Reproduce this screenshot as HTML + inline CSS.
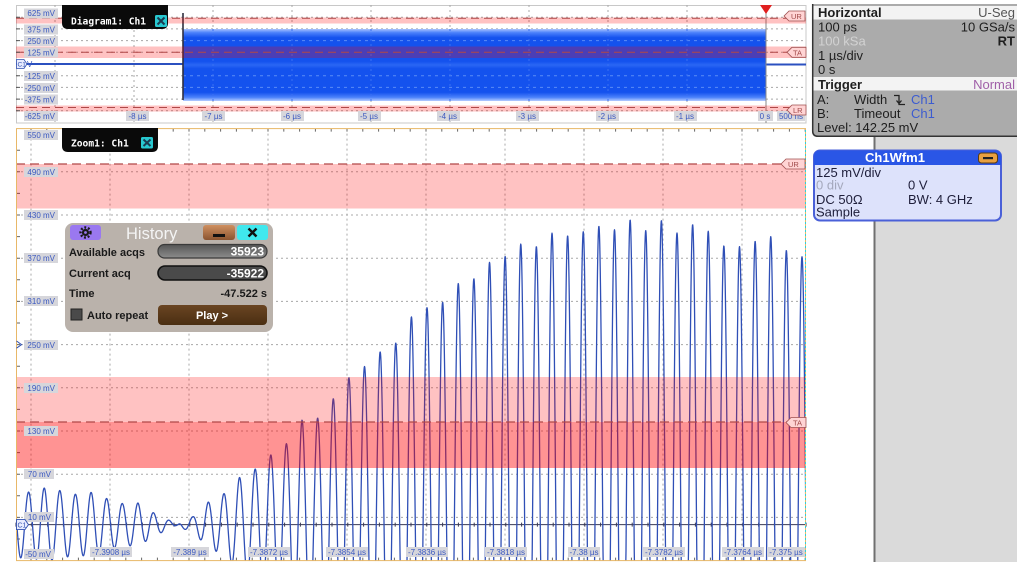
<!DOCTYPE html>
<html><head><meta charset="utf-8"><title>scope</title>
<style>
html,body{margin:0;padding:0;background:#fff;width:1024px;height:576px;overflow:hidden;position:relative}
svg{display:block;position:absolute;left:0;top:0}
text{font-family:"Liberation Sans",sans-serif}
.lb{font-size:8px;fill:#3a58c0}
.lbg{fill:#d6d6db}
.mono{font-family:"DejaVu Sans Mono","Liberation Mono",monospace;font-weight:bold;font-size:9.6px;fill:#fff}
.rp{font-size:13px;fill:#1e1e1e}
.wb{font-size:13px;fill:#1e1e3a}
.dl{font-size:11px;font-weight:bold;fill:#1a1a1a}
</style></head><body>
<svg id="s" width="1024" height="576" viewBox="0 0 1024 576" xmlns="http://www.w3.org/2000/svg" overflow="hidden">
<defs>
<linearGradient id="bf" x1="0" y1="0" x2="0" y2="1">
 <stop offset="0" stop-color="#a8c2ff"/>
 <stop offset="0.05" stop-color="#4c82fb"/>
 <stop offset="0.12" stop-color="#1452ee"/>
 <stop offset="0.45" stop-color="#1452ee"/>
 <stop offset="0.5" stop-color="#2a66f4"/>
 <stop offset="0.55" stop-color="#1452ee"/>
 <stop offset="0.88" stop-color="#1452ee"/>
 <stop offset="0.95" stop-color="#4c82fb"/>
 <stop offset="1" stop-color="#b4ccff"/>
</linearGradient>
<linearGradient id="mn" x1="0" y1="0" x2="0" y2="1">
 <stop offset="0" stop-color="#d09060"/><stop offset="1" stop-color="#8a5430"/>
</linearGradient>
<linearGradient id="f1" x1="0" y1="0" x2="0" y2="1">
 <stop offset="0" stop-color="#555"/><stop offset="1" stop-color="#8c8c8c"/>
</linearGradient>
<linearGradient id="pl" x1="0" y1="0" x2="0" y2="1">
 <stop offset="0" stop-color="#6a4522"/><stop offset="1" stop-color="#4a2e12"/>
</linearGradient>
<clipPath id="zc"><rect x="16" y="128.6" width="790" height="432"/></clipPath>
</defs>

<!-- ============ RIGHT PANEL ============ -->
<rect x="874" y="137" width="143" height="425" fill="#dadada"/>
<line x1="874.5" y1="137" x2="874.5" y2="562" stroke="#707070" stroke-width="2"/>

<path d="M812,4 H1017 V137 H818 Q812,137 812,131 Z" fill="#ababab"/>
<path d="M812.7,4 V131 Q812.7,136.3 818,136.3 H1017" fill="none" stroke="#333" stroke-width="1.5"/>
<rect x="813.5" y="6" width="203.5" height="13.5" fill="#f3f3f3"/>
<rect x="813.5" y="77" width="203.5" height="13.5" fill="#f3f3f3"/>
<text class="rp" x="818" y="17" font-weight="bold">Horizontal</text>
<text class="rp" x="1015" y="17" text-anchor="end" style="fill:#555">U-Seg</text>
<text class="rp" x="818" y="31.5">100 ps</text>
<text class="rp" x="1015" y="31.5" text-anchor="end">10 GSa/s</text>
<text class="rp" x="818" y="45.5" style="fill:#d2d2d2">100 kSa</text>
<text class="rp" x="1015" y="45.5" text-anchor="end" font-weight="bold">RT</text>
<text class="rp" x="818" y="60">1 µs/div</text>
<text class="rp" x="818" y="74">0 s</text>
<text class="rp" x="818" y="89" font-weight="bold">Trigger</text>
<text class="rp" x="1015" y="89" text-anchor="end" style="fill:#a060a8">Normal</text>
<text class="rp" x="817" y="104">A:</text>
<text class="rp" x="854" y="104">Width</text>
<path d="M894,95.5 H899 V104.5 H905 M896.5,100.5 L899,103.5 L901.5,100.5" fill="none" stroke="#222" stroke-width="1.3"/>
<text class="rp" x="911" y="104" style="fill:#3c5cd0">Ch1</text>
<text class="rp" x="817" y="118">B:</text>
<text class="rp" x="854" y="118">Timeout</text>
<text class="rp" x="911" y="118" style="fill:#3c5cd0">Ch1</text>
<text class="rp" x="817" y="132">Level: 142.25 mV</text>

<!-- Ch1Wfm1 box -->
<rect x="814" y="150.5" width="187" height="70" rx="6" fill="#dde2fb" stroke="#4a60d8" stroke-width="2"/>
<path d="M814,165 V156.5 Q814,150.5 820,150.5 H995 Q1001,150.5 1001,156.5 V165 Z" fill="#2a56e6"/>
<text x="895" y="162" text-anchor="middle" font-size="13" font-weight="bold" fill="#fff">Ch1Wfm1</text>
<rect x="978.5" y="153" width="19" height="10" rx="3" fill="#e8a040" stroke="#5a3a10" stroke-width="1"/>
<rect x="983" y="157" width="10" height="2.2" fill="#222"/>
<text class="wb" x="816" y="177">125 mV/div</text>
<text class="wb" x="816" y="189.5" style="fill:#a4a8bc">0 div</text>
<text class="wb" x="908" y="189.5">0 V</text>
<text class="wb" x="816" y="204">DC 50Ω</text>
<text class="wb" x="908" y="204">BW: 4 GHz</text>
<text class="wb" x="816" y="216.5">Sample</text>

<!-- ============ TOP DIAGRAM ============ -->
<rect x="16.5" y="5.5" width="789.5" height="117.5" fill="#fff" stroke="#c8c8c8" stroke-width="1"/>
<path d="M16,17.2H806 M16,28.9H806 M16,40.6H806 M16,52.3H806 M16,75.7H806 M16,87.4H806 M16,99.1H806 M16,110.8H806" stroke="#a8a8a8" stroke-width="1" stroke-dasharray="2,3" fill="none"/>
<path d="M55,5V123 M134,5V123 M213,5V123 M292,5V123 M371,5V123 M450,5V123 M529,5V123 M608,5V123 M687,5V123" stroke="#a8a8a8" stroke-width="1" stroke-dasharray="2,3" fill="none"/>
<!-- blue acquisition fill -->
<rect x="183" y="29" width="583" height="72" fill="url(#bf)"/>
<path d="M183,40.6H766 M183,75.7H766 M183,87.4H766" stroke="#5a8cf6" stroke-width="1" stroke-dasharray="3,4" fill="none"/>
<path d="M213,29V101 M292,29V101 M371,29V101 M450,29V101 M529,29V101 M608,29V101 M687,29V101" stroke="#3a70f2" stroke-width="1" stroke-dasharray="2,3" fill="none"/>
<line x1="16" y1="64" x2="183" y2="64" stroke="#2b50c0" stroke-width="2"/>
<line x1="766" y1="64.5" x2="806" y2="64.5" stroke="#2b50c0" stroke-width="2"/>
<line x1="183" y1="13" x2="183" y2="100" stroke="#303040" stroke-width="1.6"/>
<line x1="766" y1="12" x2="766" y2="123" stroke="#888" stroke-width="1"/>
<!-- limit bands -->
<rect x="16" y="17.5" width="790" height="6" fill="rgba(255,0,0,0.24)"/>
<rect x="16" y="46.5" width="790" height="11.5" fill="rgba(255,0,0,0.24)"/>
<rect x="16" y="105.5" width="790" height="6" fill="rgba(255,0,0,0.24)"/>
<path d="M16,18.3H806 M16,52.3H806 M16,107.5H806" stroke="#b04848" stroke-width="1" stroke-dasharray="8,5" fill="none"/>
<!-- trigger marker -->
<path d="M760,5 H772 L766,14 Z" fill="#e02020"/>
<!-- left ticks -->
<path d="M16,17.2h4 M16,28.9h4 M16,40.6h4 M16,52.3h4 M16,75.7h4 M16,87.4h4 M16,99.1h4 M16,110.8h4" stroke="#555" stroke-width="1"/>
<!-- y labels -->
<g>
<rect class="lbg" x="24" y="8.5" width="34" height="10"/><text class="lb" x="55" y="16" text-anchor="end">625 mV</text>
<rect class="lbg" x="24" y="24.5" width="34" height="10"/><text class="lb" x="55" y="32.5" text-anchor="end">375 mV</text>
<rect class="lbg" x="24" y="36" width="34" height="10"/><text class="lb" x="55" y="44" text-anchor="end">250 mV</text>
<rect class="lbg" x="24" y="47.5" width="34" height="10"/><text class="lb" x="55" y="55.5" text-anchor="end">125 mV</text>
<text class="lb" x="27" y="67">V</text>
<rect class="lbg" x="24" y="71" width="34" height="10"/><text class="lb" x="55" y="79" text-anchor="end">-125 mV</text>
<rect class="lbg" x="24" y="83" width="34" height="10"/><text class="lb" x="55" y="91" text-anchor="end">-250 mV</text>
<rect class="lbg" x="24" y="94.5" width="34" height="10"/><text class="lb" x="55" y="102.5" text-anchor="end">-375 mV</text>
<rect class="lbg" x="24" y="111" width="34" height="10"/><text class="lb" x="55" y="119" text-anchor="end">-625 mV</text>
</g>
<path d="M16.5,59.5 H24 L27,64 L24,68.5 H16.5 Z" fill="#e8ecff" stroke="#3050b0" stroke-width="0.8"/>
<text x="17.5" y="66.5" font-size="6.5" fill="#3050b0">C1</text>
<!-- x labels -->
<g>
<rect class="lbg" x="126" y="111" width="23" height="10"/><text class="lb" x="137.5" y="119" text-anchor="middle">-8 µs</text>
<rect class="lbg" x="202" y="111" width="23" height="10"/><text class="lb" x="213.5" y="119" text-anchor="middle">-7 µs</text>
<rect class="lbg" x="281" y="111" width="23" height="10"/><text class="lb" x="292" y="119" text-anchor="middle">-6 µs</text>
<rect class="lbg" x="358" y="111" width="23" height="10"/><text class="lb" x="369" y="119" text-anchor="middle">-5 µs</text>
<rect class="lbg" x="437" y="111" width="23" height="10"/><text class="lb" x="448" y="119" text-anchor="middle">-4 µs</text>
<rect class="lbg" x="516" y="111" width="23" height="10"/><text class="lb" x="527" y="119" text-anchor="middle">-3 µs</text>
<rect class="lbg" x="596" y="111" width="23" height="10"/><text class="lb" x="607" y="119" text-anchor="middle">-2 µs</text>
<rect class="lbg" x="674" y="111" width="23" height="10"/><text class="lb" x="685" y="119" text-anchor="middle">-1 µs</text>
<rect class="lbg" x="758" y="111" width="15" height="10"/><text class="lb" x="765" y="119" text-anchor="middle">0 s</text>
<rect class="lbg" x="777" y="111" width="28" height="10"/><text class="lb" x="791" y="119" text-anchor="middle">500 ns</text>
</g>
<!-- right markers -->
<g font-size="7.5" fill="#a04848">
<path d="M784,16 L789,11 H805 V21 H789 Z" fill="#ffd4d4" stroke="#a05050" stroke-width="0.8"/><text x="791" y="19">UR</text>
<path d="M787,52.3 L792,47.3 H806 V57.3 H792 Z" fill="#ffd4d4" stroke="#a05050" stroke-width="0.8"/><text x="793" y="55.3">TA</text>
<path d="M787,110 L792,105 H806 V115 H792 Z" fill="#ffd4d4" stroke="#a05050" stroke-width="0.8"/><text x="793" y="113">LR</text>
</g>
<!-- diagram tab -->
<path d="M62,5 H168 V23 Q168,29 162,29 H68 Q62,29 62,23 Z" fill="#0a0a0a"/>
<text class="mono" x="71" y="24.5">Diagram1: Ch1</text>
<rect x="155" y="15" width="12" height="12" rx="1.5" fill="#28c8d0"/>
<path d="M157.5,17.5 L164.5,24.5 M164.5,17.5 L157.5,24.5" stroke="#1a3a50" stroke-width="2"/>

<!-- ============ ZOOM DIAGRAM ============ -->
<rect x="16" y="128.6" width="790" height="432" fill="#fff"/>
<path d="M16,171.8H806 M16,215H806 M16,258.2H806 M16,301.4H806 M16,344.6H806 M16,387.8H806 M16,431H806 M16,474.2H806 M16,517.4H806" stroke="#a8a8a8" stroke-width="1" stroke-dasharray="2,3" fill="none"/>
<path d="M31,128.6V560.6 M110,128.6V560.6 M189,128.6V560.6 M268,128.6V560.6 M347,128.6V560.6 M426,128.6V560.6 M505,128.6V560.6 M584,128.6V560.6 M663,128.6V560.6 M742,128.6V560.6" stroke="#a8a8a8" stroke-width="1" stroke-dasharray="2,3" fill="none"/>
<line x1="16" y1="524.6" x2="806" y2="524.6" stroke="#3a3a55" stroke-width="1"/>
<path id="zt" d="M16,524.6h1" stroke="#3a3a55" stroke-width="1" fill="none"/>
<path id="lt" d="M16,150h1" stroke="#666" stroke-width="1" fill="none"/>
<g clip-path="url(#zc)">
<path id="wf" d="M16,524.6h1" fill="none" stroke="#2f4fb6" stroke-width="1.3" stroke-linejoin="round"/>
</g>
<!-- bands -->
<rect x="16" y="164" width="790" height="44.5" fill="rgba(255,0,0,0.24)"/>
<rect x="16" y="377" width="790" height="91" fill="rgba(255,0,0,0.24)"/>
<rect x="16" y="422" width="790" height="46" fill="rgba(255,0,0,0.24)"/>
<path d="M16,164H806 M16,422H806" stroke="#b04848" stroke-width="1.2" stroke-dasharray="9,5" fill="none"/>
<!-- frame -->
<rect x="16.5" y="128.6" width="789" height="432" fill="none" stroke="#e8b868" stroke-width="1"/>
<line x1="805.5" y1="130" x2="805.5" y2="560" stroke="#30d0d8" stroke-width="1" stroke-dasharray="2,2"/>
<!-- y labels -->
<g>
<rect class="lbg" x="24" y="130" width="34" height="10"/><text class="lb" x="55" y="138" text-anchor="end">550 mV</text>
<rect class="lbg" x="24" y="167" width="34" height="10"/><text class="lb" x="55" y="175" text-anchor="end">490 mV</text>
<rect class="lbg" x="24" y="210" width="34" height="10"/><text class="lb" x="55" y="218" text-anchor="end">430 mV</text>
<rect class="lbg" x="24" y="253" width="34" height="10"/><text class="lb" x="55" y="261" text-anchor="end">370 mV</text>
<rect class="lbg" x="24" y="296" width="34" height="10"/><text class="lb" x="55" y="304" text-anchor="end">310 mV</text>
<rect class="lbg" x="24" y="340" width="34" height="10"/><text class="lb" x="55" y="348" text-anchor="end">250 mV</text>
<rect class="lbg" x="24" y="383" width="34" height="10"/><text class="lb" x="55" y="391" text-anchor="end">190 mV</text>
<rect class="lbg" x="24" y="426" width="34" height="10"/><text class="lb" x="55" y="434" text-anchor="end">130 mV</text>
<rect class="lbg" x="24" y="469" width="30" height="10"/><text class="lb" x="51" y="477" text-anchor="end">70 mV</text>
<rect class="lbg" x="24" y="512" width="30" height="10"/><text class="lb" x="51" y="520" text-anchor="end">10 mV</text>
<rect class="lbg" x="24" y="549" width="30" height="10"/><text class="lb" x="51" y="557" text-anchor="end">-50 mV</text>
</g>
<path d="M16.5,341 L21.5,344.6 L16.5,348.2" fill="none" stroke="#3050b0" stroke-width="1"/>
<path d="M16.5,519.6 H25 L28.5,524.6 L25,529.6 H16.5 Z" fill="#e8ecff" stroke="#3050b0" stroke-width="0.9"/>
<text x="17.5" y="527.5" font-size="7" fill="#3050b0">C1</text>
<!-- x labels -->
<g>
<rect class="lbg" x="90" y="547" width="42" height="10"/><text class="lb" x="111" y="555" text-anchor="middle">-7.3908 µs</text>
<rect class="lbg" x="171" y="547" width="38" height="10"/><text class="lb" x="190" y="555" text-anchor="middle">-7.389 µs</text>
<rect class="lbg" x="248" y="547" width="42" height="10"/><text class="lb" x="269" y="555" text-anchor="middle">-7.3872 µs</text>
<rect class="lbg" x="326" y="547" width="42" height="10"/><text class="lb" x="347" y="555" text-anchor="middle">-7.3854 µs</text>
<rect class="lbg" x="406" y="547" width="42" height="10"/><text class="lb" x="427" y="555" text-anchor="middle">-7.3836 µs</text>
<rect class="lbg" x="485" y="547" width="42" height="10"/><text class="lb" x="506" y="555" text-anchor="middle">-7.3818 µs</text>
<rect class="lbg" x="568" y="547" width="32" height="10"/><text class="lb" x="584" y="555" text-anchor="middle">-7.38 µs</text>
<rect class="lbg" x="643" y="547" width="42" height="10"/><text class="lb" x="664" y="555" text-anchor="middle">-7.3782 µs</text>
<rect class="lbg" x="722" y="547" width="42" height="10"/><text class="lb" x="743" y="555" text-anchor="middle">-7.3764 µs</text>
<rect class="lbg" x="767" y="547" width="38" height="10"/><text class="lb" x="786" y="555" text-anchor="middle">-7.375 µs</text>
</g>
<!-- right markers -->
<g font-size="7.5" fill="#a04848">
<path d="M781,164 L786,159 H805 V169 H786 Z" fill="#ffd4d4" stroke="#a05050" stroke-width="0.8"/><text x="788" y="167">UR</text>
<path d="M786,422.5 L791,417.5 H806 V427.5 H791 Z" fill="#ffd4d4" stroke="#a05050" stroke-width="0.8"/><text x="793" y="425.5">TA</text>
</g>
<!-- zoom tab -->
<path d="M62,128 H158 V146 Q158,152 152,152 H68 Q62,152 62,146 Z" fill="#0a0a0a"/>
<text class="mono" x="71" y="146.5">Zoom1: Ch1</text>
<rect x="141" y="137" width="12" height="11.5" rx="1.5" fill="#28c8d0"/>
<path d="M143.5,139.5 L150.5,146 M150.5,139.5 L143.5,146" stroke="#1a3a50" stroke-width="2"/>

<!-- ============ HISTORY DIALOG ============ -->
<rect x="65" y="223" width="208" height="109" rx="8" fill="#bab2ab"/>
<rect x="70" y="225" width="31" height="15" rx="3" fill="#9a78f0"/>
<circle cx="85.5" cy="232.5" r="5" fill="none" stroke="#1a1a1a" stroke-width="2.4" stroke-dasharray="1.9,1.8"/>
<circle cx="85.5" cy="232.5" r="3.6" fill="#1a1a1a"/>
<circle cx="85.5" cy="232.5" r="1.4" fill="#9a78f0"/>
<text x="126" y="239" font-size="16.5" fill="#f4f4f4">History</text>
<rect x="203" y="225" width="32" height="15" rx="3" fill="url(#mn)"/>
<rect x="213" y="234" width="12" height="3" fill="#111"/>
<rect x="237" y="225" width="31" height="15" rx="3" fill="#40e8ee"/>
<path d="M248.5,228.5 L256.5,236.5 M256.5,228.5 L248.5,236.5" stroke="#111" stroke-width="2.4"/>
<text class="dl" x="69" y="256">Available acqs</text>
<rect x="158" y="244.5" width="109" height="13.5" rx="6.5" fill="url(#f1)" stroke="#3a3a3a" stroke-width="1.2"/>
<text x="264" y="255.5" text-anchor="end" font-size="12" font-weight="bold" fill="#fff">35923</text>
<text class="dl" x="69" y="277">Current acq</text>
<rect x="158" y="266" width="109" height="14" rx="7" fill="#4a4a4a" stroke="#111" stroke-width="1.6"/>
<text x="264" y="277.5" text-anchor="end" font-size="12" font-weight="bold" fill="#fff">-35922</text>
<text class="dl" x="69" y="297">Time</text>
<text class="dl" x="267" y="297" text-anchor="end">-47.522 s</text>
<rect x="71" y="309" width="11" height="11" fill="#4a4a4a" stroke="#222" stroke-width="1"/>
<text class="dl" x="87" y="319">Auto repeat</text>
<rect x="158" y="305" width="109" height="20" rx="4" fill="url(#pl)"/>
<text x="212" y="319" text-anchor="middle" font-size="11" font-weight="bold" fill="#fff">Play &gt;</text>
</svg>
<script>
(function(){
var env=[[16,-47],[28,-45],[45,-51],[61,-47],[76,-42],[93,-45],[107,-36],[123,-29],[138,-30],[154,-16],[166,-8],[174,-3],[178,0],[182,5],[193,11],[208,31],[224,43],[239,65],[255,77],[271,97],[287,113],[302,145],[318,148],[334,176],[350,206],[365,220],[381,241],[397,253],[412,290],[428,302],[443,309],[459,336],[475,342],[490,365],[506,373],[522,391],[537,386],[553,406],[568,401],[584,407],[600,415],[616,409],[631,424],[647,407],[662,423],[677,405],[693,417],[709,407],[724,387],[740,386],[756,394],[771,400],[787,380],[802,372],[810,372]];
function E(x){for(var i=0;i<env.length-1;i++){var a=env[i],b=env[i+1];if(x>=a[0]&&x<=b[0]){return a[1]+(b[1]-a[1])*(x-a[0])/(b[0]-a[0]);}}return env[env.length-1][1];}
var d='';
for(var x=16;x<=806;x+=0.25){var v=E(x)*Math.cos(2*Math.PI*(x-302)/15.625);var y=524.6-0.72*v;if(y>566)y=566;if(y<129)y=129;d+=(x===16?'M':'L')+x.toFixed(2)+','+y.toFixed(2);}
document.getElementById('wf').setAttribute('d',d);
var t='';for(var xx=16;xx<806;xx+=15.8){t+='M'+xx.toFixed(1)+',522.6v4';}
document.getElementById('zt').setAttribute('d',t);
var l='';for(var yy=150.2;yy<560;yy+=21.6){l+='M16,'+yy.toFixed(1)+'h4';}
for(var xb=31;xb<806;xb+=15.8){l+='M'+xb.toFixed(1)+',560.6v-3M'+xb.toFixed(1)+',128.6v3';}
document.getElementById('lt').setAttribute('d',l);
})();
</script>
</body></html>
